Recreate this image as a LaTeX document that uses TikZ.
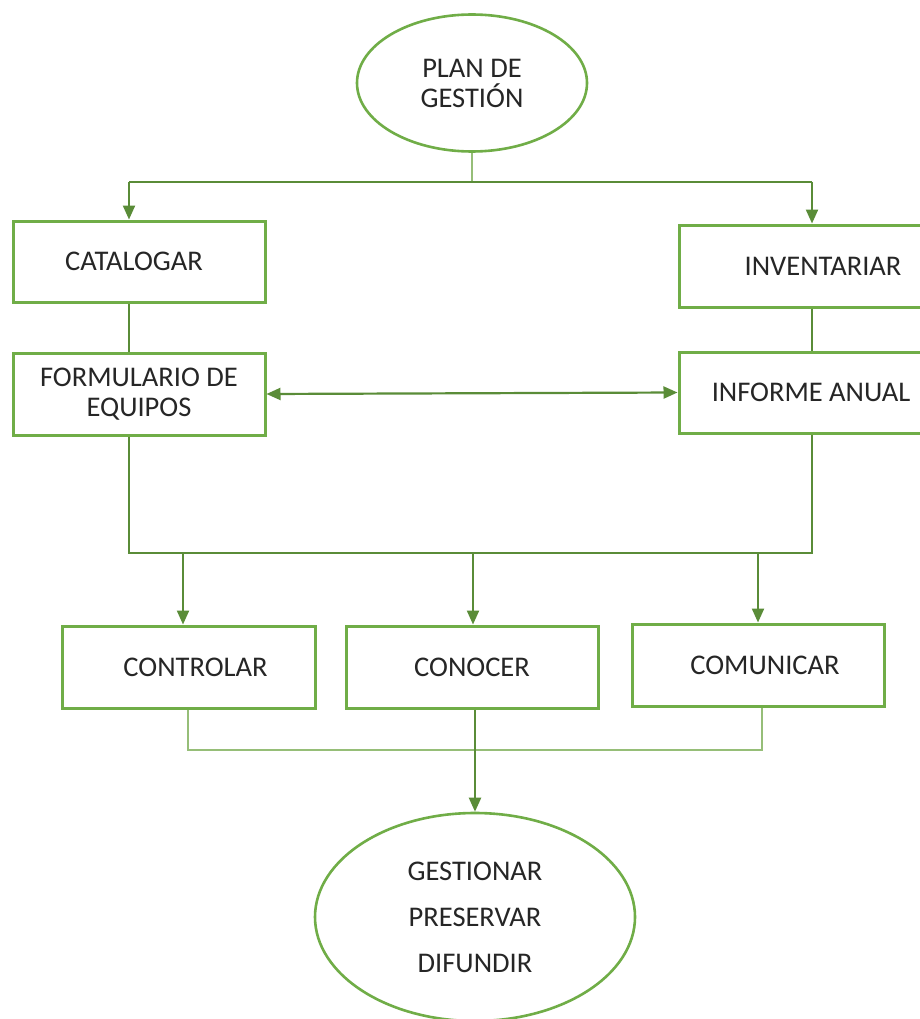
\documentclass[tikz,border=0pt]{standalone}
\usepackage{fontspec}
\setmainfont{Carlito}
\usetikzlibrary{shapes.geometric,arrows.meta,calc}
\definecolor{boxgreen}{RGB}{112,173,71}
\definecolor{linegreen}{RGB}{90,140,56}
\definecolor{thingreen}{RGB}{150,190,120}
\begin{document}
\begin{tikzpicture}[x=1pt,y=-1pt,
  box/.style={draw=boxgreen,line width=3pt,rectangle,inner sep=0pt,align=center,
    font=\fontsize{28.5}{30}\selectfont,text=black!85},
  oval/.style={draw=boxgreen,line width=2.6pt,ellipse,inner sep=0pt,align=center,
    font=\fontsize{28.5}{30}\selectfont,text=black!85},
  conn/.style={draw=linegreen,line width=2.2pt},
  thinline/.style={draw=thingreen,line width=1.3pt},
  tip/.style={-{Triangle[length=14pt,width=12pt]}},
  dtip/.style={{Triangle[length=14pt,width=12pt]}-{Triangle[length=14pt,width=12pt]}}
]
\useasboundingbox[fill=white] (0,0) rectangle (920,1019);
% nodes
\node[oval,minimum width=230,minimum height=137] (plan) at (472,83) {PLAN DE\\GESTIÓN};
\node[box,minimum width=252,minimum height=81] (cat) at (139,261.5) {\hspace*{-10pt}CATALOGAR};
\node[box,minimum width=252,minimum height=82] (form) at (139,394) {FORMULARIO DE\\EQUIPOS};
\node[box,minimum width=288,minimum height=82] (inv) at (823,266) {INVENTARIAR};
\node[box,minimum width=264,minimum height=81] (inf) at (811,392.5) {INFORME ANUAL};
\node[box,minimum width=253,minimum height=82] (ctrl) at (188.5,667) {\hspace*{14pt}CONTROLAR};
\node[box,minimum width=252,minimum height=82] (con) at (472,667) {CONOCER};
\node[box,minimum width=252,minimum height=82] (com) at (758,665) {\hspace*{14pt}COMUNICAR};
\node[oval,minimum width=320,minimum height=208,
  font=\fontsize{28.5}{46}\selectfont] (goal) at (475,917) {GESTIONAR\\PRESERVAR\\DIFUNDIR};
% helper coordinates
\coordinate (top) at (472,182);
\coordinate (mid) at (470,553);
\coordinate (low) at (470,750);
\coordinate (xL) at (129,0);
\coordinate (xR) at (812,0);
\coordinate (xC1) at (183,0);
\coordinate (xC2) at (473,0);
\coordinate (xC3) at (758,0);
\coordinate (xB1) at (188,0);
\coordinate (xB3) at (762,0);
\coordinate (xM) at (475,0);
% connectors
\draw[thinline] (plan.south) -- (top);
\draw[conn] (xL |- top) -- (xR |- top);
\draw[conn,tip] (xL |- top) -- (cat.north -| xL);
\draw[conn,tip] (xR |- top) -- (inv.north -| xR);
\draw[conn] (cat.south -| xL) -- (form.north -| xL);
\draw[conn] (inv.south -| xR) -- (inf.north -| xR);
\draw[conn,dtip] (form.east) -- (inf.west);
\draw[conn] (form.south -| xL) -- (xL |- mid) -- (xR |- mid) -- (inf.south -| xR);
\draw[conn,tip] (xC1 |- mid) -- (ctrl.north -| xC1);
\draw[conn,tip] (xC2 |- mid) -- (con.north -| xC2);
\draw[conn,tip] (xC3 |- mid) -- (com.north -| xC3);
\draw[thinline] (ctrl.south -| xB1) -- (xB1 |- low) -- (xB3 |- low) -- (com.south -| xB3);
\draw[conn,tip] (con.south -| xM) -- (goal.north);
\end{tikzpicture}
\end{document}
